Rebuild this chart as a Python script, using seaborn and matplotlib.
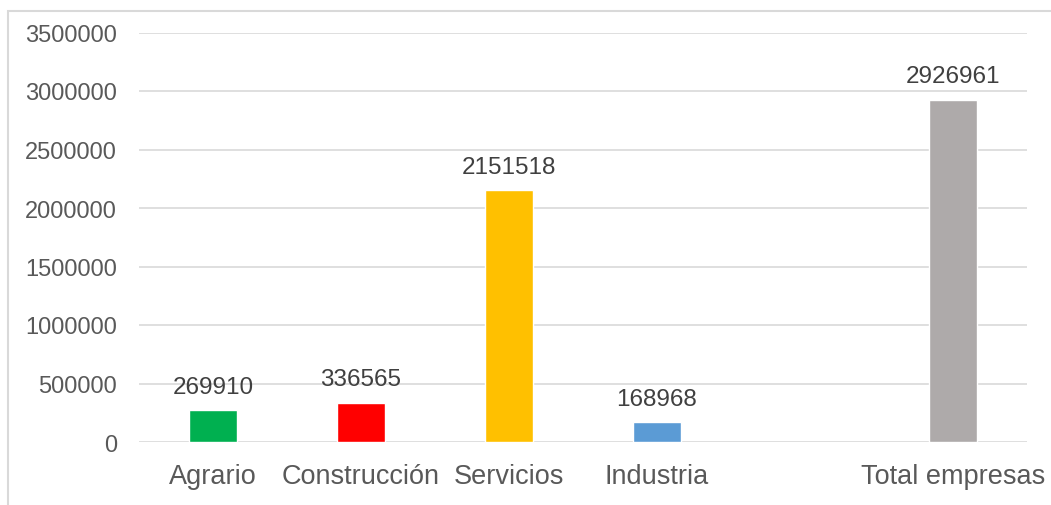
import matplotlib
matplotlib.use("Agg")
import matplotlib.pyplot as plt
import matplotlib.patches as mpatches
import seaborn as sns
import pandas as pd

categories = ["Agrario", "Construcción", "Servicios", "Industria", "Total empresas"]
values = [269910, 336565, 2151518, 168968, 2926961]
order = ["Agrario", "Construcción", "Servicios", "Industria", " ", "Total empresas"]
colors = ["#00B050", "#FF0000", "#FFC000", "#5B9BD5", "#AEAAAA"]
yticks = [0, 500000, 1000000, 1500000, 2000000, 2500000, 3000000, 3500000]

sns.set_theme(style="white")
plt.rcParams['font.family'] = ['Liberation Sans', 'DejaVu Sans']

df = pd.DataFrame({"cat": categories, "val": values})

fig = plt.figure(figsize=(10.51, 5.06), dpi=100)
ax = fig.add_axes([139/1051, 1-443/506, (1027-139)/1051, (443-33.5)/506])

sns.barplot(data=df, x="cat", y="val", hue="cat", order=order,
            hue_order=categories, palette=colors, width=0.32,
            legend=False, ax=ax, saturation=1)

for c in ax.containers:
    ax.bar_label(c, fmt="%d", padding=9, fontsize=17.5, color="#404040")

ax.set_ylim(0, 3500000)
ax.set_yticks(yticks)
ax.set_yticklabels([str(t) for t in yticks])
ax.set_xlabel("")
ax.set_ylabel("")
ax.grid(axis="y", color="#D9D9D9", linewidth=1.2)
ax.set_axisbelow(True)
for s in ax.spines.values():
    s.set_visible(False)
ax.tick_params(axis="both", length=0, colors="#595959")
ax.tick_params(axis="y", pad=16, labelsize=17)
ax.tick_params(axis="x", pad=15, labelsize=19.5)

top = 1 - 12/506
fig.patches.append(mpatches.Rectangle((8/1051, -0.2), 1.5, top + 0.2,
                                      transform=fig.transFigure, fill=False,
                                      edgecolor="#D9D9D9", linewidth=1.5))

fig.savefig("out.png", dpi=100)
